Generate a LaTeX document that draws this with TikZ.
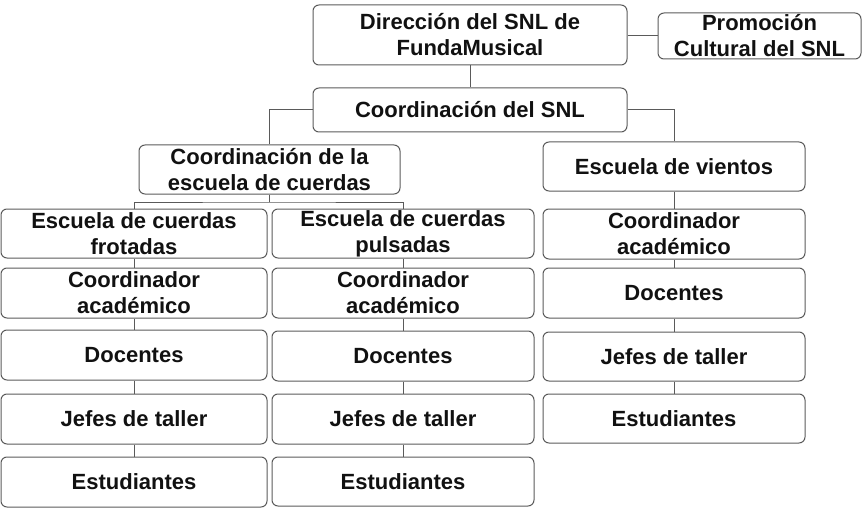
\documentclass[tikz,border=0pt]{standalone}
\usepackage{fontspec}
\setmainfont{Liberation Sans}
\definecolor{linegray}{HTML}{5A5A5A}
\definecolor{txt}{HTML}{111111}
\begin{document}
\begin{tikzpicture}[x=1pt,y=-1pt,
  box/.style={draw=linegray, line width=1pt, rounded corners=6pt, align=center,
    inner sep=0pt, text=txt, font=\fontsize{22}{26}\selectfont\bfseries},
  wl/.style={minimum width=266pt}, wm/.style={minimum width=262pt},
  h50/.style={minimum height=50pt}, h49/.style={minimum height=49pt},
  conn/.style={draw=linegray, line width=1pt}]
\useasboundingbox (0,0) rectangle (862,508);
% top
\node[box, minimum width=314pt, minimum height=60pt] (dir) at (470,35) {Dirección del SNL de\\FundaMusical};
\node[box, minimum width=203pt, minimum height=46pt] (promo) at (759.5,36) {Promoción\\Cultural del SNL};
\node[box, minimum width=314pt, minimum height=44pt] (coord) at (470,110) {Coordinación del SNL};
\node[box, minimum width=261pt, h49] (cuer) at (269.5,169.5) {Coordinación de la\\escuela de cuerdas};
\node[box, wm, h49] (vien) at (674,166.5) {Escuela de vientos};
% left column
\node[box, wl, h49] (frot) at (134,233.5) {Escuela de cuerdas\\frotadas};
\node[box, wl, h50] (lc) at (134,293) {Coordinador\\académico};
\node[box, wl, h50] (ld) at (134,355) {Docentes};
\node[box, wl, h50] (lj) at (134,419) {Jefes de taller};
\node[box, wl, h50] (le) at (134,482) {Estudiantes};
% middle column
\node[box, wm, h49] (puls) at (403,233.5) {Escuela de cuerdas\\pulsadas};
\node[box, wm, h50] (mc) at (403,293) {Coordinador\\académico};
\node[box, wm, h50] (md) at (403,356) {Docentes};
\node[box, wm, h50] (mj) at (403,419) {Jefes de taller};
\node[box, wm, h49] (me) at (403,481.5) {Estudiantes};
% right column
\node[box, wm, h50] (rc) at (674,234) {Coordinador\\académico};
\node[box, wm, h50] (rd) at (674,293) {Docentes};
\node[box, wm, h49] (rj) at (674,356.5) {Jefes de taller};
\node[box, wm, h49] (re) at (674,418.5) {Estudiantes};
% connectors
\draw[conn] (dir) -- (coord);
\draw[conn] (dir.east |- promo.west) -- (promo.west);
\draw[conn] (coord.west) -| (cuer.north);
\draw[conn] (coord.east) -| (vien.north);
\draw[conn] (cuer.south) -- ++(0,7.5) coordinate (cj);
\draw[conn] (frot.north) |- (cj) -| (puls.north);
\draw[conn] (frot) -- (lc); \draw[conn] (lc) -- (ld); \draw[conn] (ld) -- (lj); \draw[conn] (lj) -- (le);
\draw[conn] (puls) -- (mc); \draw[conn] (mc) -- (md); \draw[conn] (md) -- (mj); \draw[conn] (mj) -- (me);
\draw[conn] (vien) -- (rc); \draw[conn] (rc) -- (rd); \draw[conn] (rd) -- (rj); \draw[conn] (rj) -- (re);
\end{tikzpicture}
\end{document}
